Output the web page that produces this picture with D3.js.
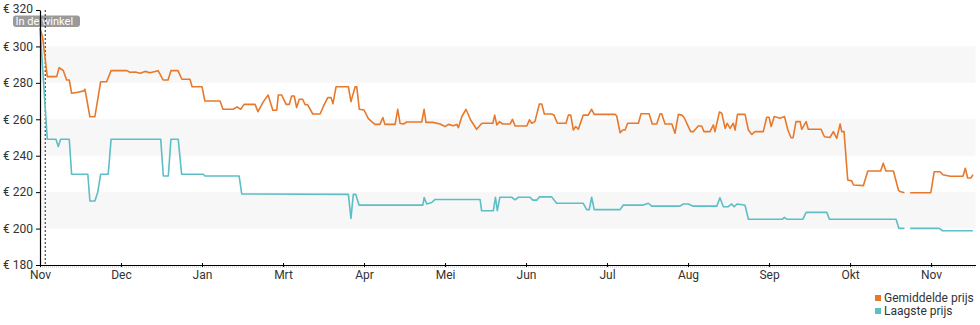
<!DOCTYPE html>
<html>
<head>
<meta charset="utf-8">
<script src="https://cdn.jsdelivr.net/npm/d3@7/dist/d3.min.js"></script>
<style>
  html, body { margin: 0; padding: 0; background: #fff; }
  svg { display: block; font-family: Roboto, "Noto Sans", sans-serif; }
</style>
</head>
<body>
<svg id="chart" width="980" height="325"></svg>
<script>
// Month tick labels (one tick every 31 days from the first day)
const monthLabels = ["Nov", "Dec", "Jan", "Mrt", "Apr", "Mei", "Jun", "Jul", "Aug", "Sep", "Okt", "Nov"];
const tickStepDays = 31;
const priceTicks = [180, 200, 220, 240, 260, 280, 300, 320];
const storeMarkDay = 2;

// Average price: day offset and price in euro (null = no data that day)
const avgDays = [0, 1.0, 2.8, 6.4, 7.3, 8.9, 10.2, 11.2, 12.1, 14.5, 16.8, 17.2, 19.1, 21.0, 23.2, 25.5, 27.2, 33.3, 34.4, 36.4,
  38.3, 40.2, 42.1, 45.2, 47.1, 49.0, 50.1, 52.8, 54.3, 57.4, 58.2, 62.0, 63.1, 68.9, 70.0, 73.9, 75.4, 76.8, 78.1, 82.3,
  83.4, 85.5, 87.3, 89.1, 90.6, 91.2, 92.5, 94.2, 95.4, 96.3, 97.3, 98.2, 99.2, 100.5, 101.4, 102.5, 104.4, 107.2, 108.4, 110.1,
  111.4, 112.1, 113.3, 118.0, 119.0, 120.6, 121.2, 122.2, 124.0, 125.6, 126.9, 128.2, 130.1, 131.2, 132.0, 135.9, 136.9, 137.8, 139.3, 140.3,
  146.1, 147.0, 147.7, 150.4, 153.1, 155.0, 156.3, 158.2, 159.5, 160.1, 161.4, 163.0, 164.8, 167.1, 169.0, 169.7, 173.3, 174.0, 174.8, 175.8,
  177.1, 179.9, 180.8, 181.8, 186.3, 187.3, 188.2, 189.4, 191.1, 192.0, 193.0, 195.8, 196.7, 198.0, 201.3, 202.2, 203.1, 204.1, 205.0, 206.0,
  207.9, 209.8, 211.1, 212.1, 220.1, 220.7, 222.0, 223.0, 223.9, 224.9, 229.0, 230.0, 233.1, 234.3, 236.0, 237.3, 237.9, 239.2, 241.8, 243.0,
  244.3, 245.6, 246.5, 248.1, 249.0, 250.0, 251.9, 253.2, 254.1, 256.4, 257.7, 258.3, 260.0, 260.9, 262.2, 263.0, 264.1, 265.3, 266.0, 266.9,
  269.8, 271.1, 272.4, 273.6, 276.8, 278.1, 279.0, 279.8, 281.0, 283.2, 284.9, 286.2, 287.4, 288.2, 289.3, 290.9, 291.5, 293.2, 294.0, 298.9,
  300.2, 302.3, 303.6, 304.9, 306.2, 306.8, 307.7, 309.1, 310.6, 311.3, 315.1, 316.8, 321.7, 322.7, 323.7, 326.6, 328.5, 329.1, 330.8, 332,
  333.0, 340.9, 342.2, 344.4, 345.5, 348.3, 353.2, 354.1, 355.0, 356.3, 357.0];
const avgPrices = [310, 305, 283.4, 283.4, 288.3, 286.8, 281.6, 281.6, 274.3, 274.8, 275.6, 276.5, 261.4, 261.4, 280.6, 280.6, 286.7, 286.7, 285.8, 286.0,
  285.3, 286.3, 285.5, 286.7, 281.6, 281.6, 286.7, 286.7, 282, 282, 277.9, 277.9, 270, 270, 265.5, 265.5, 266.8, 265.5, 268.2, 268.2,
  264.2, 269.7, 273.3, 265, 265, 273.3, 273.3, 268.2, 268.2, 272.8, 272.8, 266.4, 271, 271, 268.2, 267.8, 262.9, 262.9, 266.9, 271.9,
  271.9, 268.5, 277.9, 277.9, 269.7, 277.9, 277.9, 265.5, 265.1, 260.5, 258.7, 257.2, 257.2, 261, 257.2, 257.2, 265.5, 257.7, 257.5, 258.5,
  258.5, 265.5, 258.3, 258.3, 257.4, 256, 257.2, 256.5, 257.2, 255.4, 261.4, 265.5, 259.6, 254.5, 257.7, 257.8, 257.8, 262.3, 256.9, 258.7,
  257.4, 257.4, 260, 256.3, 256.3, 259.7, 257.8, 258.7, 268.4, 268.4, 262.9, 262.9, 262.3, 257.8, 257.8, 262.3, 262.3, 254.1, 256, 254.5,
  262.3, 262.3, 265.5, 262.7, 262.7, 261.8, 252.6, 254.1, 254.1, 257.8, 257.8, 263, 263, 257.4, 257.4, 263, 263, 257.4, 257.4, 252.3,
  262.7, 262.3, 261, 256, 253.2, 253.2, 256.3, 256.3, 253.2, 253.2, 256.9, 253.2, 264, 263.3, 255, 257.8, 255, 257.8, 254.1, 262.7,
  262.7, 254.1, 251.7, 253.2, 253.2, 261.1, 261.1, 256, 261.5, 260.6, 261.5, 254.1, 249.9, 249.9, 258.7, 258.7, 254.5, 258.7, 254.5, 254.5,
  250.4, 250, 253.2, 249.5, 257.4, 253.2, 253.2, 226.7, 226.2, 223.9, 223.6, 231.6, 231.6, 235.8, 231.6, 231.6, 221.2, 220.3, 219.7, null,
  219.7, 219.7, 231.2, 231.2, 229.6, 228.7, 228.7, 233.1, 227.8, 227.8, 229.6];

// Lowest price: day offset and price in euro (null = no data that day)
const lowDays = [0, 2.8, 6.1, 7.0, 7.9, 11.2, 12.1, 18.3, 19.1, 21.0, 22.1, 23.2, 26.1, 27.2, 46.2, 47.2, 49.1, 50.1, 52.9, 54.2,
  62.5, 63.1, 76.2, 77.2, 118.0, 119.0, 119.9, 120.8, 122.1, 146.5, 147.0, 148.0, 149.9, 151.2, 168.4, 169.0, 173.5, 174.3, 175.0, 176.0,
  180.5, 181.8, 183.1, 187.5, 188.6, 190.1, 191.1, 195.8, 197.7, 207.9, 209.2, 210.2, 211.1, 212.1, 222.0, 223.2, 230.9, 232.8, 234.1, 244.9,
  246.2, 248.1, 250.0, 259.0, 260.2, 261.5, 263.4, 264.7, 265.6, 266.9, 269.8, 271.1, 284.0, 284.9, 285.9, 291.9, 293.2, 301.1, 302.1, 327.6,
  328.7, 330.8, 332, 333.0, 344.1, 345.4, 357.0];
const lowPrices = [310, 249, 249, 245, 249, 249, 229.8, 229.8, 215.1, 215.1, 220, 229.8, 229.8, 249, 249, 228.9, 228.9, 249, 249, 229.8,
  229.8, 228.9, 228.9, 219, 218.8, 205.6, 218.8, 218.8, 212.9, 212.9, 217, 213.5, 214.3, 216, 216, 209.8, 209.8, 217.2, 209.8, 217.2,
  217.2, 215.8, 217.2, 217.2, 215.6, 215.6, 217.4, 217.4, 213.9, 213.9, 210.4, 210.4, 217.2, 210.4, 210.4, 212.9, 212.9, 213.9, 212.3, 212.3,
  213.5, 213.5, 212.3, 212.3, 216.9, 212, 212, 213.5, 212, 213.5, 212.8, 205.1, 205.1, 206.2, 205.1, 205.1, 208.9, 208.9, 205.1, 205.1,
  200.1, 200.1, null, 200.1, 200.1, 198.8, 198.8];

const seriesNames = ["Gemiddelde prijs", "Laagste prijs"];
const seriesColors = ["#e8792b", "#5dbec6"];
const storeLabel = "In de winkel";

const svg = d3.select("#chart");
const plotLeft = 40, plotRight = 975.5, plotTop = 10, plotBottom = 265;

const x = d3.scaleLinear().domain([0, 358]).range([plotLeft, plotRight]);
const y = d3.scaleLinear().domain([180, 320]).range([plotBottom, plotTop]);

// Alternating background bands
const bands = [[280, 300], [240, 260], [200, 220]];
svg.append("g").selectAll("rect").data(bands).join("rect")
  .attr("x", plotLeft).attr("width", plotRight - plotLeft)
  .attr("y", d => y(d[1])).attr("height", d => y(d[0]) - y(d[1]))
  .attr("fill", "#f7f7f7");

// Store label box
const lab = svg.append("g");
lab.append("rect").attr("x", 13).attr("y", 15.5).attr("width", 67).attr("height", 11.5).attr("rx", 3)
  .attr("fill", "#8f8f8f").attr("opacity", 0.9);
lab.append("text").attr("x", 15.5).attr("y", 25).attr("fill", "#fff").attr("font-size", 11).text(storeLabel);

// Store marker (dotted vertical line)
svg.append("line")
  .attr("x1", x(storeMarkDay)).attr("x2", x(storeMarkDay))
  .attr("y1", plotTop).attr("y2", plotBottom)
  .attr("stroke", "#222").attr("stroke-width", 1).attr("stroke-dasharray", "2,2");

// Lines
const line = d3.line().defined(d => d[1] !== null).x(d => x(d[0])).y(d => y(d[1]));
const avgSeries = avgDays.map((d, i) => [d, avgPrices[i]]);
const lowSeries = lowDays.map((d, i) => [d, lowPrices[i]]);
[avgSeries, lowSeries].forEach((s, i) => {
  svg.append("path").datum(s).attr("d", line)
    .attr("fill", "none").attr("stroke", seriesColors[i]).attr("stroke-width", 1.6)
    .attr("stroke-linejoin", "round");
});

// Dotted line just under the x axis
svg.append("line").attr("x1", plotLeft).attr("x2", plotRight).attr("y1", plotBottom + 2).attr("y2", plotBottom + 2)
  .attr("stroke", "#bbb").attr("stroke-dasharray", "1,1");

// Y axis
const yAxis = svg.append("g").attr("transform", `translate(${plotLeft},0)`)
  .call(d3.axisLeft(y).tickValues(priceTicks).tickSize(4).tickSizeOuter(0).tickPadding(3).tickFormat(d => "€ " + d));
yAxis.select(".domain").attr("stroke", "#000").attr("stroke-width", 1.2);
yAxis.selectAll("text").attr("fill", "#333").attr("font-size", 12).attr("font-family", "Roboto, sans-serif");
// keep the top label clear of the store label box
yAxis.selectAll(".tick text").filter(d => d === 320).attr("dy", "0.22em");

// X axis
const tickDays = monthLabels.map((m, i) => i * tickStepDays);
const xAxis = svg.append("g").attr("transform", `translate(0,${plotBottom})`)
  .call(d3.axisBottom(x).tickValues(tickDays).tickSize(2).tickSizeOuter(0).tickPadding(3)
    .tickFormat((d, i) => monthLabels[i]));
xAxis.select(".domain").attr("stroke", "#000").attr("stroke-width", 1.2);
xAxis.selectAll(".tick line").attr("y1", -2).attr("y2", 2).attr("stroke", "#000");
xAxis.selectAll("text").attr("fill", "#333").attr("font-size", 12).attr("font-family", "Roboto, sans-serif");

// Legend
const legend = svg.append("g").attr("transform", "translate(875,0)");
seriesNames.forEach((name, i) => {
  const yy = 298 + i * 13;
  legend.append("rect").attr("x", 0).attr("y", yy - 3).attr("width", 6).attr("height", 6).attr("fill", seriesColors[i]);
  legend.append("text").attr("x", 9).attr("y", yy + 4).attr("fill", "#333").attr("font-size", 12).text(name);
});
</script>
</body>
</html>
